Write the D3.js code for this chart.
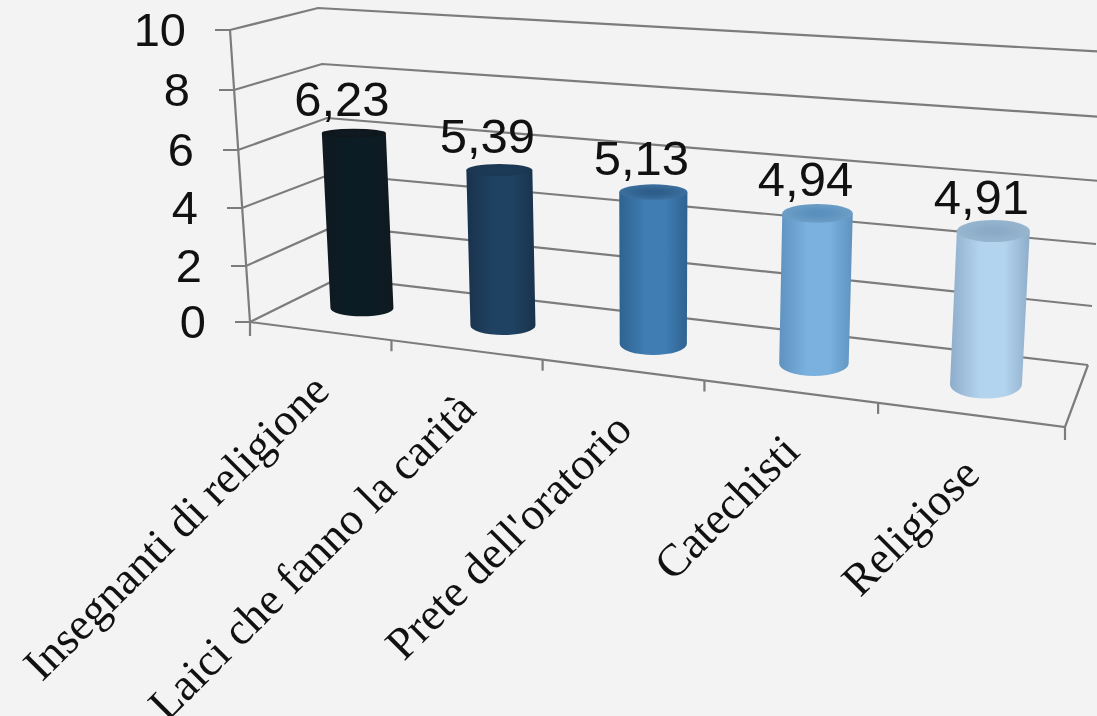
<!DOCTYPE html>
<html>
<head>
<meta charset="utf-8">
<style>
  html, body { margin: 0; padding: 0; background: #f3f3f3; overflow: hidden; }
  svg { display: block; filter: blur(0.5px); }
  .num { font-family: "Liberation Sans", sans-serif; font-size: 47px; fill: #111; }
  .val { font-size: 49px; }
  .cat { font-family: "Liberation Serif", serif; font-size: 45.5px; fill: #111; }
  .frame { fill: none; stroke: #7c7c7c; stroke-width: 2.2px; }
</style>
</head>
<body>
<svg id="chart" width="1097" height="716"></svg>
<script src="https://cdn.jsdelivr.net/npm/d3@7"></script>
<script>
const categories = ['Insegnanti di religione', 'Laici che fanno la carità', "Prete dell'oratorio", 'Catechisti', 'Religiose'];
const values = [6.23, 5.39, 5.13, 4.94, 4.91];
const valueLabels = ['6,23', '5,39', '5,13', '4,94', '4,91'];
const yTicks = [0, 2, 4, 6, 8, 10];

// bar shading, dark to light across the categories
const edgeColors = ['#10191f', '#1a324c', '#2f6291', '#5f92bf', '#8eadcb'];
const midColors = ['#0b1c25', '#1f4262', '#3f7db2', '#7ab1de', '#b3d4ee'];
const topColors = ['#0e161b', '#1b3752', '#3c709e', '#6c9ec6', '#96b5cf'];
const topInnerColors = ['#101a20', '#1c3a58', '#2d5d8b', '#5a90bd', '#8aabc8'];

const svg = d3.select('#chart');
const defs = svg.append('defs');

// wall edges of the 3d box, one scale per vertical edge
const frontLeftX = d3.scaleLinear().domain(yTicks).range([250, 246, 242, 238, 234, 230]);
const frontLeftY = d3.scaleLinear().domain(yTicks).range([322, 266, 208, 150, 90, 30]);
const backLeftX = d3.scaleLinear().domain(yTicks).range([339, 335, 331, 327, 322, 318]);
const backLeftY = d3.scaleLinear().domain(yTicks).range([278, 226, 174, 118, 64, 8]);
const backRightX = d3.scaleLinear().domain(yTicks).range([1088, 1092, 1096, 1100, 1104, 1108]);
const backRightY = d3.scaleLinear().domain(yTicks).range([365, 306, 244, 181, 117, 52]);

// floor corners: front left, front right, back right, back left
const floor = [[250, 322], [1065, 427], [1088, 365], [339, 278]];

// maps the unit square (u along categories, d along depth) on to the floor
const makeFloorProjection = (q) => {
  const [p0, p1, p2, p3] = q;
  const sx = p0[0] - p1[0] + p2[0] - p3[0];
  const sy = p0[1] - p1[1] + p2[1] - p3[1];
  const dx1 = p1[0] - p2[0];
  const dy1 = p1[1] - p2[1];
  const dx2 = p3[0] - p2[0];
  const dy2 = p3[1] - p2[1];
  const det = dx1 * dy2 - dx2 * dy1;
  const g = (sx * dy2 - dx2 * sy) / det;
  const h = (dx1 * sy - sx * dy1) / det;
  return (u, d) => {
    const w = 1 + g * u + h * d;
    return {
      x: (p0[0] + (p1[0] - p0[0] + g * p1[0]) * u + (p3[0] - p0[0] + h * p3[0]) * d) / w,
      y: (p0[1] + (p1[1] - p0[1] + g * p1[1]) * u + (p3[1] - p0[1] + h * p3[1]) * d) / w,
      w,
    };
  };
};
const project = makeFloorProjection(floor);

const band = d3.scaleBand().domain(categories).range([0, 1]);
const unitHeight = d3.scaleLinear().domain([308, 383]).range([28.1, 31.2]);
const lean = d3.scaleLinear().domain([352, 652, 952]).range([-0.0045 * 300, 0, 0.0045 * 300]);
const baseRy = d3.scaleLinear().domain([0, categories.length - 1]).range([8.2, 14]);
const topRy = d3.scaleLinear().domain([0, categories.length - 1]).range([4.4, 11]);

const frame = svg.append('g').attr('class', 'frame');

// gridlines: side wall then back wall
yTicks.forEach((t) => {
  const path = d3.path();
  path.moveTo(frontLeftX(t) - 15, frontLeftY(t));
  path.lineTo(frontLeftX(t), frontLeftY(t));
  path.lineTo(backLeftX(t), backLeftY(t));
  path.lineTo(backRightX(t), backRightY(t));
  frame.append('path').attr('d', path.toString());
});

// left axis, floor edges and category ticks
const line = d3.line();
frame.append('path').attr('d', line([[frontLeftX(10), frontLeftY(10)], [frontLeftX(0), frontLeftY(0)], [frontLeftX(0), frontLeftY(0) + 14]]));
frame.append('path').attr('d', line([floor[0], floor[1], floor[2]]));

d3.range(1, categories.length + 1).forEach((i) => {
  const p = project(i * band.step(), 0);
  const len = i === categories.length ? 13 : 11;
  frame.append('path').attr('d', line([[p.x, p.y], [p.x, p.y + len]]));
});

// y tick labels
svg.append('g').selectAll('text').data(yTicks).join('text')
  .attr('class', 'num')
  .attr('text-anchor', 'end')
  .attr('x', d => frontLeftX(d) - 44)
  .attr('y', d => frontLeftY(d) + 16)
  .text(d => d);

// cylinders
const bars = categories.map((c, i) => {
  const base = project(band(c) + band.bandwidth() / 2, 0.48);
  const h = values[i] * unitHeight(base.y);
  const topX = base.x + lean(base.x) * values[i];
  const rx = 32.4 / base.w;
  return {
    i, base, h, topX, topY: base.y - h, rx, rxTop: rx + 0.5,
  };
});

bars.forEach((b) => {
  const side = defs.append('linearGradient').attr('id', `side${b.i}`);
  [[0, edgeColors], [0.38, midColors], [0.68, midColors], [1, edgeColors]].forEach(([o, cols]) => {
    side.append('stop').attr('offset', o).attr('stop-color', cols[b.i]);
  });
  const top = defs.append('radialGradient').attr('id', `top${b.i}`);
  top.append('stop').attr('offset', 0.25).attr('stop-color', topInnerColors[b.i]);
  top.append('stop').attr('offset', 1).attr('stop-color', topColors[b.i]);
});

const barG = svg.append('g').selectAll('g').data(bars).join('g');

barG.append('path')
  .attr('fill', d => `url(#side${d.i})`)
  .attr('d', (d) => {
    const ryB = baseRy(d.i);
    return `M${d.topX - d.rxTop},${d.topY}L${d.base.x - d.rx},${d.base.y}`
      + `A${d.rx},${ryB} 0 0 0 ${d.base.x + d.rx},${d.base.y}`
      + `L${d.topX + d.rxTop},${d.topY}Z`;
  });

barG.append('ellipse')
  .attr('cx', d => d.topX)
  .attr('cy', d => d.topY)
  .attr('rx', d => d.rxTop)
  .attr('ry', d => topRy(d.i))
  .attr('fill', d => `url(#top${d.i})`);

// value labels
barG.append('text')
  .attr('class', 'num val')
  .attr('text-anchor', 'middle')
  .attr('x', d => d.topX - 12)
  .attr('y', d => d.topY - 17)
  .text(d => valueLabels[d.i]);

// rotated category labels, hung from the middle of each floor band
svg.append('g').selectAll('text').data(categories).join('text')
  .attr('class', 'cat')
  .attr('text-anchor', 'end')
  .attr('transform', (d) => {
    const p = project(band(d) + band.bandwidth() / 2, 0);
    return `translate(${p.x + 12},${p.y + 62}) rotate(-45)`;
  })
  .text(d => d);
</script>
</body>
</html>
